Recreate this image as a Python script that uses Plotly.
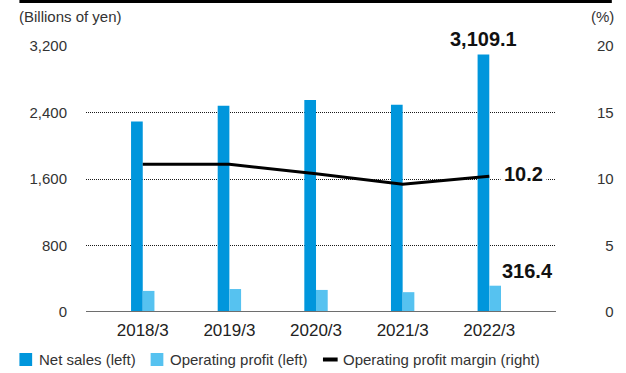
import plotly.graph_objects as go

# Fiscal years and results
categories = ["2018/3", "2019/3", "2020/3", "2021/3", "2022/3"]
net_sales = [2290.6, 2481.1, 2550.3, 2493.4, 3109.1]          # billions of yen
operating_profit = [253.7, 276.3, 265.5, 238.6, 316.4]       # billions of yen
operating_margin = [11.1, 11.1, 10.4, 9.6, 10.2]             # percent

left_ticks = [0, 800, 1600, 2400, 3200]
left_tick_text = ["0", "800", "1,600", "2,400", "3,200"]
right_ticks = [0, 5, 10, 15, 20]
right_tick_text = ["\u20070", "\u20075", "10", "15", "20"]

NET_COLOR = "#0096DC"
OP_COLOR = "#56C2F0"
FONT = "Liberation Sans, Arial, sans-serif"
TEXT_COLOR = "#333333"

W, H = 626, 373
ML, MR, MT, MB = 86, 60, 46, 61
PW, PH = W - ML - MR, H - MT - MB


def px(x):
    return (x - ML) / PW


def py(y):
    return (H - MB - y) / PH


fig = go.Figure()

fig.add_trace(go.Bar(
    x=categories, y=net_sales, name="Net sales (left)",
    marker=dict(color=NET_COLOR, line=dict(width=0)),
    width=0.135, offset=-0.135, showlegend=False,
))
fig.add_trace(go.Bar(
    x=categories, y=operating_profit, name="Operating profit (left)",
    marker=dict(color=OP_COLOR, line=dict(width=0)),
    width=0.135, offset=0, showlegend=False,
))
fig.add_trace(go.Scatter(
    x=categories, y=operating_margin, name="Operating profit margin (right)",
    mode="lines", line=dict(color="black", width=3), yaxis="y2",
    showlegend=False,
))

fig.update_layout(
    width=W, height=H,
    margin=dict(l=ML, r=MR, t=MT, b=MB, pad=0),
    paper_bgcolor="white", plot_bgcolor="white",
    font=dict(family=FONT, size=15, color=TEXT_COLOR),
    barmode="overlay",
    xaxis=dict(
        type="category", range=[-0.655, 4.77],
        showgrid=False, showline=False, zeroline=False,
        ticks="", ticklabelstandoff=6,
        tickfont=dict(family=FONT, size=17, color="#222222"),
    ),
    yaxis=dict(
        range=[0, 3200], tickvals=left_ticks, ticktext=left_tick_text,
        showgrid=True, gridcolor="#1a1a1a", gridwidth=1, griddash="1px,1px",
        zeroline=False, showline=False, ticks="",
        ticklabelstandoff=18,
        tickfont=dict(family=FONT, size=15, color=TEXT_COLOR),
    ),
    yaxis2=dict(
        range=[0, 20], tickvals=right_ticks, ticktext=right_tick_text,
        overlaying="y", side="right", showgrid=False, zeroline=False,
        showline=False, ticks="", ticklabelstandoff=40,
        tickfont=dict(family=FONT, size=15, color=TEXT_COLOR),
    ),
)

shapes = [
    # baseline at zero
    dict(type="line", xref="paper", yref="y", x0=0, x1=1, y0=0, y1=0,
         line=dict(color="#6E6E6E", width=2), layer="above"),
    # rule across the top
    dict(type="rect", xref="paper", yref="paper", x0=px(18), x1=px(623),
         y0=py(3), y1=py(0), fillcolor="black", line=dict(width=0)),
    # legend keys
    dict(type="rect", xref="paper", yref="paper", x0=px(18), x1=px(31),
         y0=py(366), y1=py(353), fillcolor=NET_COLOR, line=dict(width=0)),
    dict(type="rect", xref="paper", yref="paper", x0=px(152), x1=px(165),
         y0=py(366), y1=py(353), fillcolor=OP_COLOR, line=dict(width=0)),
    dict(type="line", xref="paper", yref="paper", x0=px(328), x1=px(343),
         y0=py(359.5), y1=py(359.5), line=dict(color="black", width=4)),
]

annotations = [
    dict(text="(Billions of yen)", xref="paper", yref="paper", x=px(16),
         y=py(17), xanchor="left", yanchor="middle", showarrow=False,
         font=dict(size=15, color=TEXT_COLOR)),
    dict(text="(%)", xref="paper", yref="paper", x=px(627), y=py(17),
         xanchor="right", yanchor="middle", showarrow=False,
         font=dict(size=15, color=TEXT_COLOR)),
    # value callouts for the latest year
    dict(text="<b>3,109.1</b>", x=categories[-1], y=net_sales[-1], yref="y",
         xanchor="center", yanchor="middle", xshift=-6, yshift=15,
         showarrow=False, bgcolor="white", borderpad=4,
         font=dict(size=20, color="#111111")),
    dict(text="<b>10.2</b>", x=categories[-1], y=operating_margin[-1],
         yref="y2", xanchor="left", yanchor="middle", xshift=11, yshift=2,
         showarrow=False, bgcolor="white", borderpad=3,
         font=dict(size=20, color="#111111")),
    dict(text="<b>316.4</b>", x=categories[-1], y=operating_profit[-1],
         yref="y", xanchor="left", yanchor="middle", xshift=11, yshift=15,
         showarrow=False, borderpad=1,
         font=dict(size=20, color="#111111")),
    # legend labels
    dict(text="Net sales (left)", xref="paper", yref="paper", x=px(36),
         y=py(359.5), xanchor="left", yanchor="middle", showarrow=False,
         font=dict(size=15, color=TEXT_COLOR)),
    dict(text="Operating profit (left)", xref="paper", yref="paper",
         x=px(170), y=py(359.5), xanchor="left", yanchor="middle",
         showarrow=False, font=dict(size=15, color=TEXT_COLOR)),
    dict(text="Operating profit margin (right)", xref="paper", yref="paper",
         x=px(346), y=py(359.5), xanchor="left", yanchor="middle",
         showarrow=False, font=dict(size=15, color=TEXT_COLOR)),
]

fig.update_layout(shapes=shapes, annotations=annotations)

fig.write_html("out.html")
